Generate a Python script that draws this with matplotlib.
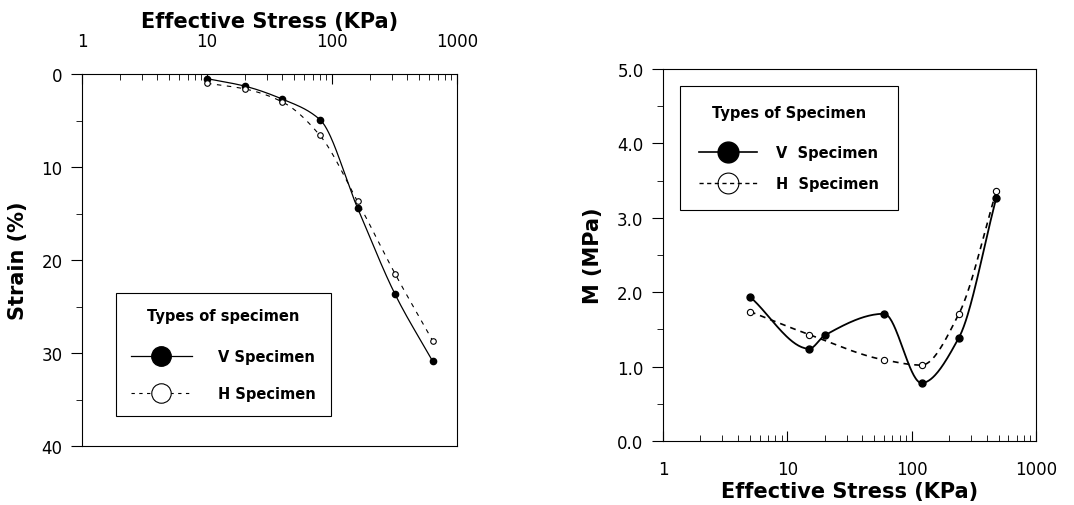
import numpy as np
import matplotlib
matplotlib.use('Agg')
import matplotlib.pyplot as plt
from matplotlib.lines import Line2D
from matplotlib.ticker import LogLocator, NullFormatter, MultipleLocator, FormatStrFormatter

plt.rcParams['font.family'] = ['DejaVu Sans']

# ---------------- data ----------------
stress_left = [10, 20, 40, 80, 160, 320, 640]
strain_v = [0.5, 1.3, 2.7, 4.9, 14.4, 23.7, 30.9]
strain_h = [1.0, 1.6, 3.0, 6.6, 13.7, 21.5, 28.7]

stress_v_right = [5, 15, 20, 60, 120, 240, 480]
m_v = [1.94, 1.24, 1.42, 1.71, 0.78, 1.39, 3.27]
stress_h_right = [5, 15, 60, 120, 240, 480]
m_h = [1.74, 1.43, 1.09, 1.02, 1.71, 3.36]

left_yticks = [0, 10, 20, 30, 40]
right_yticks = [0.0, 1.0, 2.0, 3.0, 4.0, 5.0]
xticks = [1, 10, 100, 1000]
xticklabels = ['1', '10', '100', '1000']


def smooth_curve(x, y, n=40):
    """Monotone cubic (PCHIP) line through the points in log10(x) space (drawing only)."""
    lx = np.log10(np.asarray(x, float))
    yy = np.asarray(y, float)
    h = np.diff(lx)
    d = np.diff(yy) / h
    k = len(lx)
    m = np.zeros(k)
    m[0] = d[0]
    m[-1] = d[-1]
    for i in range(1, k - 1):
        if d[i - 1] * d[i] <= 0:
            m[i] = 0.0
        else:
            w1 = 2 * h[i] + h[i - 1]
            w2 = h[i] + 2 * h[i - 1]
            m[i] = (w1 + w2) / (w1 / d[i - 1] + w2 / d[i])
    xs, ys = [], []
    t = np.linspace(0, 1, n)
    h00 = 2 * t**3 - 3 * t**2 + 1
    h10 = t**3 - 2 * t**2 + t
    h01 = -2 * t**3 + 3 * t**2
    h11 = t**3 - t**2
    for i in range(k - 1):
        seg_y = h00 * yy[i] + h10 * h[i] * m[i] + h01 * yy[i + 1] + h11 * h[i] * m[i + 1]
        seg_x = lx[i] + t * h[i]
        if i > 0:
            seg_x, seg_y = seg_x[1:], seg_y[1:]
        xs.append(seg_x)
        ys.append(seg_y)
    return 10 ** np.concatenate(xs), np.concatenate(ys)


fig = plt.figure(figsize=(10.74, 5.06), dpi=100)

label_font = dict(fontsize=15, fontweight='bold')
tick_fs = 12
leg_prop = dict(size=10.5, weight='bold')

# ---------------- left panel ----------------
axL = fig.add_axes([82 / 1074, 1 - 447 / 506, 375 / 1074, 372 / 506])
axL.set_xscale('log')
axL.set_xlim(1, 1000)
axL.set_ylim(40, 0)

sx, sy = smooth_curve(stress_left, strain_v)
axL.plot(sx, sy, '-', color='black', lw=0.9)
axL.plot(stress_left, strain_v, 'o', ms=4.5, mfc='black', mec='black')
sx, sy = smooth_curve(stress_left, strain_h)
axL.plot(sx, sy, linestyle=(0, (4, 5)), color='black', lw=0.8)
axL.plot(stress_left, strain_h, 'o', ms=4, mfc='white', mec='black', mew=0.8)

axL.xaxis.set_ticks_position('top')
axL.xaxis.set_label_position('top')
axL.set_xticks(xticks)
axL.set_xticklabels(xticklabels)
axL.xaxis.set_minor_locator(LogLocator(base=10, subs=np.arange(2, 10)))
axL.xaxis.set_minor_formatter(NullFormatter())
axL.tick_params(axis='x', which='major', direction='in', length=7, width=0.8, pad=17, labelsize=tick_fs)
axL.tick_params(axis='x', which='minor', direction='in', length=4, width=0.6)
axL.set_yticks(left_yticks)
axL.yaxis.set_minor_locator(MultipleLocator(5))
axL.tick_params(axis='y', which='major', direction='out', length=8, width=0.8, pad=6, labelsize=tick_fs)
axL.tick_params(axis='y', which='minor', direction='out', length=4, width=0.6)
axL.set_xlabel('Effective Stress (KPa)', labelpad=4, **label_font)
axL.set_ylabel('Strain (%)', labelpad=10, **label_font)
for s in axL.spines.values():
    s.set_linewidth(0.8)

hV = Line2D([], [], color='black', lw=0.9, marker='o', ms=14, mfc='black', mec='black')
hH = Line2D([], [], color='black', lw=0.8, linestyle=(0, (3, 4)), marker='o', ms=14,
            mfc='white', mec='black', mew=0.8)
legL = axL.legend([hV, hH], ['V Specimen', 'H Specimen'], title='Types of specimen',
                  loc='upper left', bbox_to_anchor=(0.091, 0.411), borderaxespad=0,
                  fancybox=False, edgecolor='black', framealpha=1, handlelength=4.2,
                  handletextpad=1.8, borderpad=1.0, labelspacing=1.5, prop=leg_prop,
                  title_fontproperties=leg_prop)
legL.get_frame().set_linewidth(0.8)
legL._legend_box.sep = 19

# ---------------- right panel ----------------
axR = fig.add_axes([663 / 1074, 1 - 442 / 506, 373 / 1074, 372 / 506])
axR.set_xscale('log')
axR.set_xlim(1, 1000)
axR.set_ylim(0, 5)

sx, sy = smooth_curve(stress_v_right, m_v)
axR.plot(sx, sy, '-', color='black', lw=1.3)
axR.plot(stress_v_right, m_v, 'o', ms=5, mfc='black', mec='black')
sx, sy = smooth_curve(stress_h_right, m_h)
axR.plot(sx, sy, linestyle=(0, (3.5, 3)), color='black', lw=1.2)
axR.plot(stress_h_right, m_h, 'o', ms=4.5, mfc='white', mec='black', mew=0.8)

axR.set_xticks(xticks)
axR.set_xticklabels(xticklabels)
axR.xaxis.set_minor_locator(LogLocator(base=10, subs=np.arange(2, 10)))
axR.xaxis.set_minor_formatter(NullFormatter())
axR.tick_params(axis='x', which='major', direction='in', length=7, width=0.8, pad=14, labelsize=tick_fs)
axR.tick_params(axis='x', which='minor', direction='in', length=4, width=0.6)
axR.set_yticks(right_yticks)
axR.yaxis.set_major_formatter(FormatStrFormatter('%.1f'))
axR.yaxis.set_minor_locator(MultipleLocator(0.5))
axR.tick_params(axis='y', which='major', direction='out', length=8, width=0.8, pad=6, labelsize=tick_fs)
axR.tick_params(axis='y', which='minor', direction='out', length=4, width=0.6)
axR.set_xlabel('Effective Stress (KPa)', labelpad=2, **label_font)
axR.set_ylabel('M (MPa)', labelpad=10, **label_font)
for s in axR.spines.values():
    s.set_linewidth(0.8)

hV2 = Line2D([], [], color='black', lw=1.2, marker='o', ms=15, mfc='black', mec='black')
hH2 = Line2D([], [], color='black', lw=1.0, linestyle=(0, (3, 2.5)), marker='o', ms=15,
             mfc='none', mec='black', mew=0.8)
legR = axR.legend([hV2, hH2], ['V  Specimen', 'H  Specimen'], title='Types of Specimen',
                  loc='upper left', bbox_to_anchor=(0.046, 0.954), borderaxespad=0,
                  fancybox=False, edgecolor='black', framealpha=1, handlelength=4.0,
                  handletextpad=1.3, borderpad=1.3, labelspacing=1.1, prop=leg_prop,
                  title_fontproperties=leg_prop)
legR.get_frame().set_linewidth(0.8)
legR._legend_box.sep = 18

fig.savefig('out.png', dpi=100)
